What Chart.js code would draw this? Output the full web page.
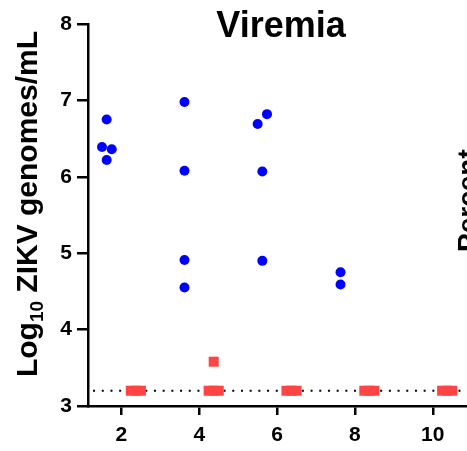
<!DOCTYPE html>
<html>
<head>
<meta charset="utf-8">
<script src="https://cdn.jsdelivr.net/npm/chart.js@4"></script>
<style>
  html, body { margin: 0; padding: 0; background: #fff; overflow: hidden; }
  #grafico { display: block; }
</style>
</head>
<body>
<canvas id="grafico" width="467" height="451"></canvas>
<script>
// datos
const xTicks = [2, 4, 6, 8, 10];
const yTicks = [3, 4, 5, 6, 7, 8];
const limiteDeteccion = 3.2;

const viremiaX = [1.62, 1.50, 1.75, 1.62, 3.62, 3.62, 3.62, 3.62, 5.74, 5.50, 5.62, 5.62, 7.63, 7.63];
const viremiaY = [6.75, 6.39, 6.36, 6.22, 6.98, 6.08, 4.91, 4.55, 6.82, 6.69, 6.07, 4.90, 4.75, 4.59];

const controlX = [2.24, 2.37, 2.50, 4.24, 4.37, 4.50, 4.37, 6.24, 6.37, 6.50, 8.24, 8.37, 8.50, 10.24, 10.37, 10.50];
const controlY = [3.2, 3.2, 3.2, 3.2, 3.2, 3.2, 3.58, 3.2, 3.2, 3.2, 3.2, 3.2, 3.2, 3.2, 3.2, 3.2];

const fuente = '"Liberation Sans", Arial, Helvetica, sans-serif';

function puntos(xs, ys) {
  return xs.map((x, i) => ({ x: x, y: ys[i] }));
}

const textos = {
  id: 'textos',
  afterDraw(chart) {
    const ctx = chart.ctx;
    ctx.save();
    ctx.fillStyle = '#000';

    // titulo
    ctx.font = 'bold 36px ' + fuente;
    ctx.textAlign = 'center';
    ctx.textBaseline = 'alphabetic';
    ctx.fillText('Viremia', 281, 37);

    // titulo eje y con subindice
    ctx.translate(37, 204);
    ctx.rotate(-Math.PI / 2);
    const partes = [
      { t: 'Log', f: 'bold 30px ' + fuente, dy: 0 },
      { t: '10', f: 'bold 19px ' + fuente, dy: 6 },
      { t: ' ZIKV genomes/mL', f: 'bold 30px ' + fuente, dy: 0 }
    ];
    let total = 0;
    partes.forEach(p => { ctx.font = p.f; p.w = ctx.measureText(p.t).width; total += p.w; });
    let cx = -total / 2;
    ctx.textAlign = 'left';
    partes.forEach(p => { ctx.font = p.f; ctx.fillText(p.t, cx, p.dy); cx += p.w; });
    ctx.restore();

    // texto cortado a la derecha
    ctx.save();
    ctx.fillStyle = '#000';
    ctx.translate(477, 252);
    ctx.rotate(-Math.PI / 2);
    ctx.font = 'bold 28px ' + fuente;
    ctx.textAlign = 'left';
    ctx.fillText('Percent', 0, 0);
    ctx.restore();
  }
};

const ctx = document.getElementById('grafico').getContext('2d');
new Chart(ctx, {
  type: 'scatter',
  data: {
    datasets: [
      {
        label: 'LOD',
        type: 'line',
        data: [{ x: 1.27, y: limiteDeteccion }, { x: 10.9, y: limiteDeteccion }],
        borderColor: '#000',
        borderWidth: 2,
        borderDash: [2, 6.7],
        pointRadius: 0,
        order: 3
      },
      {
        label: 'Control',
        data: puntos(controlX, controlY),
        pointStyle: 'rect',
        pointRadius: 7.07,
        pointHoverRadius: 7.07,
        backgroundColor: '#FF4444',
        borderWidth: 0,
        order: 2
      },
      {
        label: 'Viremia',
        data: puntos(viremiaX, viremiaY),
        pointStyle: 'circle',
        pointRadius: 5,
        pointHoverRadius: 5,
        backgroundColor: '#0000FF',
        borderWidth: 0,
        order: 1
      }
    ]
  },
  options: {
    responsive: false,
    animation: false,
    devicePixelRatio: 1,
    layout: { autoPadding: false, padding: { top: 24, right: 0, left: 0, bottom: 0 } },
    plugins: { legend: { display: false }, tooltip: { enabled: false } },
    scales: {
      x: {
        type: 'linear',
        min: 1.14,
        max: 10.88,
        afterBuildTicks: s => { s.ticks = xTicks.map(v => ({ value: v })); },
        afterFit: s => { s.height = 45; },
        border: { color: '#000', width: 2.5 },
        grid: { display: true, drawOnChartArea: false, drawTicks: true, tickLength: 9, color: '#000', lineWidth: 2.5 },
        ticks: { color: '#000', font: { family: fuente, size: 21, weight: 'bold' }, padding: 8, maxRotation: 0 }
      },
      y: {
        min: 3,
        max: 8,
        afterBuildTicks: s => { s.ticks = yTicks.map(v => ({ value: v })); },
        afterFit: s => { s.width = 88; },
        border: { color: '#000', width: 2.5 },
        grid: { display: true, drawOnChartArea: false, drawTicks: true, tickLength: 11, color: '#000', lineWidth: 2.5 },
        ticks: { color: '#000', font: { family: fuente, size: 21, weight: 'bold' }, padding: 5 }
      }
    }
  },
  plugins: [textos]
});
</script>
</body>
</html>
